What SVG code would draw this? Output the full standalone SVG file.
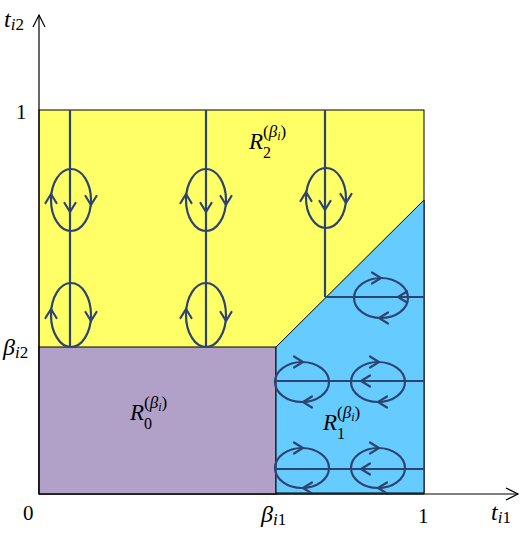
<svg xmlns="http://www.w3.org/2000/svg" xmlns:xlink="http://www.w3.org/1999/xlink" width="525" height="533" viewBox="0 0 525 533">
<style>
.ax{stroke:#000;stroke-width:1.2;fill:none}
.fl{stroke:#2E4470;stroke-width:2.2;fill:none}
.lbl{font-family:"Liberation Serif","DejaVu Serif",serif;fill:#000}
.it{font-style:italic}
</style>
<defs>
<path id="chev" d="M -9 -5.5 L 0 0 L -9 5.5" stroke="#2E4470" stroke-width="2.2" fill="none" stroke-linecap="round"/>
</defs>
<g id="regions">
<rect id="region-R2" x="39" y="110" width="385" height="384" fill="#FFFF66" stroke="#000" stroke-width="1"/>
<rect id="region-R0" x="39" y="347" width="237" height="147" fill="#B1A0C7" stroke="#000" stroke-width="1"/>
<polygon id="region-R1" points="276,347 424,200 424,493 276,493" fill="#66CCFF" stroke="#000" stroke-width="1"/>
</g>
<g id="connectors">
<line class="fl" x1="70" y1="110" x2="70" y2="347"/>
<line class="fl" x1="206" y1="110" x2="206" y2="347"/>
<line class="fl" x1="325" y1="110" x2="325" y2="297"/>
<line class="fl" x1="325" y1="297" x2="424" y2="297"/>
<line class="fl" x1="276" y1="381" x2="424" y2="381"/>
<line class="fl" x1="276" y1="469" x2="424" y2="469"/>
<use href="#chev" transform="translate(70,212) rotate(90)"/>
<use href="#chev" transform="translate(206,212) rotate(90)"/>
<use href="#chev" transform="translate(325,210) rotate(90)"/>
<use href="#chev" transform="translate(398,297) rotate(180)"/>
<use href="#chev" transform="translate(361,381) rotate(180)"/>
<use href="#chev" transform="translate(361,469) rotate(180)"/>
</g>
<g id="loops">
<g id="loop-v1"><ellipse class="fl" cx="71" cy="200" rx="20" ry="31"/><use href="#chev" transform="translate(51,194) rotate(-90)"/><use href="#chev" transform="translate(91,205) rotate(90)"/></g>
<g id="loop-v2"><ellipse class="fl" cx="71" cy="315" rx="20" ry="32"/><use href="#chev" transform="translate(51,309) rotate(-90)"/><use href="#chev" transform="translate(91,321) rotate(90)"/></g>
<g id="loop-v3"><ellipse class="fl" cx="206" cy="200" rx="20" ry="31"/><use href="#chev" transform="translate(186,194) rotate(-90)"/><use href="#chev" transform="translate(226,205) rotate(90)"/></g>
<g id="loop-v4"><ellipse class="fl" cx="206" cy="315" rx="20" ry="32"/><use href="#chev" transform="translate(186,309) rotate(-90)"/><use href="#chev" transform="translate(226,321) rotate(90)"/></g>
<g id="loop-v5"><ellipse class="fl" cx="326" cy="198" rx="20" ry="30"/><use href="#chev" transform="translate(306,192) rotate(-90)"/><use href="#chev" transform="translate(346,203) rotate(90)"/></g>
<g id="loop-h1"><ellipse class="fl" cx="381" cy="298" rx="27" ry="20"/><use href="#chev" transform="translate(381,278)"/><use href="#chev" transform="translate(379,318) rotate(180)"/></g>
<g id="loop-h2"><ellipse class="fl" cx="302" cy="382" rx="27" ry="20"/><use href="#chev" transform="translate(303,362)"/><use href="#chev" transform="translate(303,402) rotate(180)"/></g>
<g id="loop-h3"><ellipse class="fl" cx="378" cy="382" rx="27" ry="20"/><use href="#chev" transform="translate(379,362)"/><use href="#chev" transform="translate(378,402) rotate(180)"/></g>
<g id="loop-h4"><ellipse class="fl" cx="302" cy="468" rx="27" ry="20"/><use href="#chev" transform="translate(303,448)"/><use href="#chev" transform="translate(303,488) rotate(180)"/></g>
<g id="loop-h5"><ellipse class="fl" cx="378" cy="468" rx="27" ry="20"/><use href="#chev" transform="translate(379,448)"/><use href="#chev" transform="translate(378,488) rotate(180)"/></g>
</g>
<g id="axes">
<line class="ax" x1="39" y1="494" x2="39" y2="15"/>
<path class="ax" d="M33 27 L39 15 L45 27"/>
<line class="ax" x1="39" y1="494" x2="518" y2="494"/>
<path class="ax" d="M506 488 L518 494 L506 500"/>
</g>
<g id="labels">
<text class="lbl" font-size="24" x="4" y="27"><tspan class="it">t</tspan><tspan font-size="17" dy="3" class="it">i</tspan><tspan font-size="17">2</tspan></text>
<text class="lbl" font-size="21" x="16" y="119">1</text>
<text class="lbl" font-size="24" x="3" y="355"><tspan class="it">β</tspan><tspan font-size="17" dy="3" class="it">i</tspan><tspan font-size="17">2</tspan></text>
<text class="lbl" font-size="21" x="23" y="520">0</text>
<text class="lbl" font-size="24" x="261" y="522"><tspan class="it">β</tspan><tspan font-size="17" dy="3" class="it">i</tspan><tspan font-size="17">1</tspan></text>
<text class="lbl" font-size="21" x="418" y="523">1</text>
<text class="lbl" font-size="24" x="491" y="520"><tspan class="it">t</tspan><tspan font-size="17" dy="3" class="it">i</tspan><tspan font-size="17">1</tspan></text>
<g id="label-R2"><text class="lbl" font-size="23" x="249" y="149"><tspan class="it">R</tspan><tspan font-size="16" x="263" y="158">2</tspan></text><text class="lbl" font-size="17" x="263" y="137">(<tspan class="it">β</tspan><tspan font-size="12" class="it" dy="3">i</tspan><tspan dy="-3">)</tspan></text></g>
<g id="label-R0"><text class="lbl" font-size="23" x="130" y="420"><tspan class="it">R</tspan><tspan font-size="16" x="144" y="429">0</tspan></text><text class="lbl" font-size="17" x="144" y="408">(<tspan class="it">β</tspan><tspan font-size="12" class="it" dy="3">i</tspan><tspan dy="-3">)</tspan></text></g>
<g id="label-R1"><text class="lbl" font-size="23" x="323" y="430"><tspan class="it">R</tspan><tspan font-size="16" x="337" y="439">1</tspan></text><text class="lbl" font-size="17" x="337" y="418">(<tspan class="it">β</tspan><tspan font-size="12" class="it" dy="3">i</tspan><tspan dy="-3">)</tspan></text></g>
</g>
</svg>
